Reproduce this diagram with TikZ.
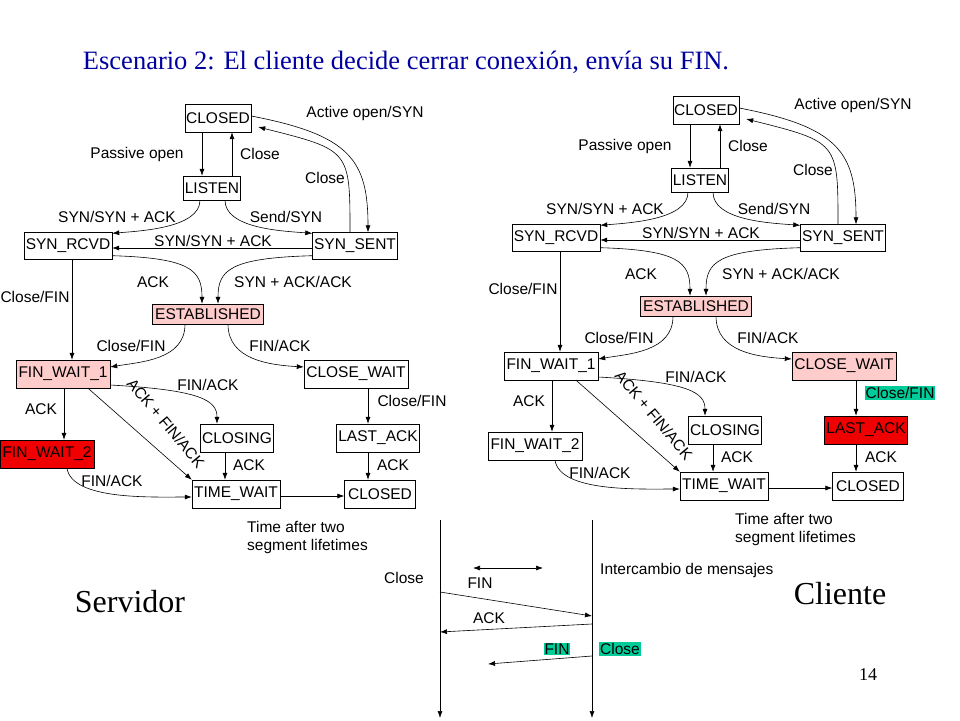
\documentclass[tikz,border=0pt]{standalone}
\usepackage{fontspec}
\setmainfont{Liberation Sans}
\newfontfamily\serifff{Liberation Serif}
\usetikzlibrary{arrows.meta}
\definecolor{pinkf}{RGB}{255,204,204}
\definecolor{redf}{RGB}{240,0,0}
\definecolor{greenf}{RGB}{0,204,153}
\definecolor{titleblue}{RGB}{0,0,160}
\tikzset{
  st/.style={draw,inner sep=0pt,font=\fontsize{15.5}{17}\selectfont},
  lb/.style={font=\fontsize{15.5}{18}\selectfont,inner sep=1pt},
  ar/.style={-{Latex[length=7pt,width=5pt]},line width=0.6pt},
}
\newcommand\tcpfsm[6]{%
\node[st,minimum width=66pt,minimum height=28pt] (#1c1) at (218,118) {CLOSED};
\node[st,minimum width=57pt,minimum height=24pt] (#1li) at (212,188) {LISTEN};
\node[st,minimum width=88pt,minimum height=27pt] (#1sr) at (68,246) {SYN\_RCVD};
\node[st,minimum width=85pt,minimum height=27pt] (#1ss) at (355,246) {SYN\_SENT};
\node[st,fill=pinkf,minimum width=111pt,minimum height=20pt] (#1es) at (208,314) {ESTABLISHED};
\node[st,fill=#2,minimum width=94pt,minimum height=28pt] (#1f1) at (63,374) {FIN\_WAIT\_1};
\node[st,fill=#4,minimum width=104pt,minimum height=28pt] (#1cw) at (356,374) {CLOSE\_WAIT};
\node[st,minimum width=73pt,minimum height=28pt] (#1cl) at (237,438) {CLOSING};
\node[st,fill=#5,minimum width=83pt,minimum height=28pt] (#1la) at (378,438) {LAST\_ACK};
\node[st,fill=#3,minimum width=94pt,minimum height=28pt] (#1f2) at (47,454) {FIN\_WAIT\_2};
\node[st,minimum width=88pt,minimum height=28pt] (#1tw) at (236,494) {TIME\_WAIT};
\node[st,minimum width=71pt,minimum height=28pt] (#1c2) at (380,494) {CLOSED};
\node[lb] (#1l1) at (365,113) {Active open/SYN};
\node[lb] (#1l2) at (137,154) {Passive open};
\node[lb] (#1l3) at (260,154) {Close};
\node[lb] (#1l4) at (325,178) {Close};
\node[lb] (#1l5) at (117,217) {SYN/SYN + ACK};
\node[lb] (#1l6) at (286,217) {Send/SYN};
\node[lb] (#1l7) at (213,241) {SYN/SYN + ACK};
\node[lb] (#1l8) at (153,282) {ACK};
\node[lb] (#1l9) at (293,282) {SYN + ACK/ACK};
\node[lb] (#1l10) at (35,297) {Close/FIN};
\node[lb] (#1l11) at (131,346) {Close/FIN};
\node[lb] (#1l12) at (280,346) {FIN/ACK};
\node[lb] (#1l13) at (208,385) {FIN/ACK};
\node[lb] (#1l14) at (41,409) {ACK};
\node[lb,rotate=-50] (#1l15) at (166,423) {ACK + FIN/ACK};
\node[lb,fill=#6] (#1l16) at (412,401) {Close/FIN};
\node[lb] (#1l17) at (249,465) {ACK};
\node[lb] (#1l18) at (393,465) {ACK};
\node[lb] (#1l19) at (112,481) {FIN/ACK};
\node[lb,align=left,anchor=north west] (#1l20) at (246,520) {Time after two\\segment lifetimes};
\draw[ar] ([xshift=-16pt]#1c1.south) -- ([xshift=-10pt]#1li.north);
\draw[ar] ([xshift=20pt]#1li.north) -- ([xshift=14pt]#1c1.south);
\draw[ar] ([xshift=-5pt]#1ss.north) .. controls (350,150) .. ([xshift=7pt,yshift=-9pt]#1c1.east);
\draw[ar] ([yshift=2pt]#1c1.east) .. controls (350,135) and (368,160) .. ([xshift=13pt]#1ss.north);
\draw[ar] ([xshift=-12pt]#1li.south) .. controls (200,228) and (140,231) .. ([yshift=-1pt]#1sr.north east);
\draw[ar] ([xshift=13pt]#1li.south) .. controls (225,228) and (280,231) .. ([yshift=-1pt]#1ss.north west);
\draw[ar] ([yshift=-2pt]#1ss.west) -- ([yshift=-2pt]#1sr.east);
\draw[ar] ([yshift=4pt]#1sr.south east) .. controls (190,258) and (202,270) .. ([xshift=-6pt]#1es.north);
\draw[ar] ([yshift=4pt]#1ss.south west) .. controls (230,258) and (218,270) .. ([xshift=10pt]#1es.north);
\draw[ar] ([xshift=4pt]#1sr.south) -- ([xshift=9pt]#1f1.north);
\draw[ar] ([xshift=-23pt]#1es.south) .. controls (185,360) and (140,362) .. ([yshift=7pt]#1f1.east);
\draw[ar] ([xshift=20pt]#1es.south) .. controls (228,360) and (270,365) .. ([yshift=7pt]#1cw.west);
\draw[ar] ([yshift=-11pt]#1f1.east) .. controls (200,390) and (217,400) .. ([xshift=-20pt]#1cl.north);
\draw[ar] ([xshift=1pt]#1f1.south) -- ([xshift=17pt]#1f2.north);
\draw[ar] ([xshift=25pt]#1f1.south) -- (#1tw.north west);
\draw[ar] ([xshift=20pt]#1f2.south) .. controls (72,500) and (150,497) .. ([yshift=-3pt]#1tw.west);
\draw[ar] ([xshift=-12pt]#1cl.south) -- ([xshift=-11pt]#1tw.north);
\draw[ar] ([xshift=12pt]#1cw.south) -- ([xshift=-10pt]#1la.north);
\draw[ar] ([xshift=-10pt]#1la.south) -- ([xshift=-12pt]#1c2.north);
\draw[ar] ([yshift=-2pt]#1tw.east) -- ([yshift=-2pt]#1c2.west);
}
\begin{document}
\begin{tikzpicture}[x=1pt,y=-1pt]
\useasboundingbox (0,0) rectangle (960,720);
\node[font=\serifff\fontsize{26.5}{30}\selectfont,text=titleblue] (title) at (406,62) {Escenario 2: El cliente decide cerrar conexión, envía su FIN.};
\tcpfsm{L}{pinkf}{redf}{white}{white}{white}
\begin{scope}[shift={(488,-8)}]
\tcpfsm{R}{white}{white}{pinkf}{redf}{greenf}
\end{scope}
\node[font=\serifff\fontsize{32}{36}\selectfont] (serv) at (130,602) {Servidor};
\node[font=\serifff\fontsize{32}{36}\selectfont] (cli) at (840,594) {Cliente};
\node[font=\serifff\fontsize{18}{20}\selectfont] (pg) at (868,675) {14};
\coordinate (a1) at (440,520); \coordinate (a2) at (440,718);
\coordinate (b1) at (592,520); \coordinate (b2) at (592,718);
\draw[ar] (a1) -- (a2);
\draw[ar] (b1) -- (b2);
\coordinate (d1) at (473,568); \coordinate (d2) at (543,568);
\draw[{Latex[length=7pt,width=5pt]}-{Latex[length=7pt,width=5pt]},line width=0.6pt] (d1) -- (d2);
\node[lb] (sc) at (404,578) {Close};
\node[lb] (sf) at (480,583) {FIN};
\node[lb] (sa) at (489,618) {ACK};
\node[lb,fill=greenf] (sf2) at (557,649) {FIN};
\node[lb,fill=greenf] (sc2) at (620,649) {Close};
\node[lb,anchor=west] (im) at (599,570) {Intercambio de mensajes};
\coordinate (m1) at (440,592); \coordinate (m2) at (592,616);
\coordinate (m3) at (592,624); \coordinate (m4) at (440,632);
\coordinate (m5) at (592,656); \coordinate (m6) at (488,664);
\draw[ar] (m1) -- (m2);
\draw[ar] (m3) -- (m4);
\draw[ar] (m5) -- (m6);
\end{tikzpicture}
\end{document}
